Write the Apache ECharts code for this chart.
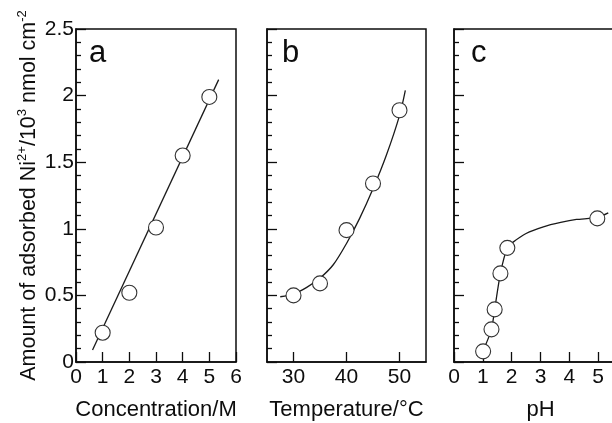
<!DOCTYPE html>
<html>
<head>
<meta charset="utf-8">
<script src="https://cdn.jsdelivr.net/npm/echarts@6/dist/echarts.min.js"></script>
<style>
  html, body { margin: 0; padding: 0; background: #fff; }
  #chart { width: 612px; height: 423px; }
</style>
</head>
<body>
<div id="chart"></div>
<script>
// panel a: concentration
const concX = [1, 2, 3, 4, 5];
const concY = [0.22, 0.52, 1.01, 1.55, 1.99];
const concFitX = [0.62, 5.35];
const concFitY = [0.09, 2.12];
// panel b: temperature
const tempX = [30, 35, 40, 45, 50];
const tempY = [0.50, 0.59, 0.99, 1.34, 1.89];
const tempFitX = [27.5, 30, 32.5, 35, 37.5, 40, 42.5, 45, 47.5, 50, 51.1];
const tempFitY = [0.49, 0.51, 0.56, 0.63, 0.73, 0.89, 1.08, 1.30, 1.55, 1.85, 2.04];
// panel c: pH
const phX = [1.01, 1.30, 1.41, 1.61, 1.85, 4.97];
const phY = [0.08, 0.245, 0.395, 0.665, 0.857, 1.078];
const phFitX = [0.78, 1.01, 1.30, 1.41, 1.61, 1.85, 2.05, 2.5, 3.1, 3.7, 4.25, 4.97, 5.35];
const phFitY = [0.05, 0.09, 0.245, 0.395, 0.665, 0.857, 0.90, 0.965, 1.015, 1.048, 1.07, 1.085, 1.12];

const yTicks = [0, 0.5, 1, 1.5, 2, 2.5];
const panelLetters = ['a', 'b', 'c'];
const xNames = ['Concentration/M', 'Temperature/°C', 'pH'];

const font = "'Liberation Sans', Arial, sans-serif";
const ink = '#0d0d0d';

function pairs(xs, ys) {
  return xs.map((x, i) => [x, ys[i]]);
}

let chart = echarts.init(document.getElementById('chart'));

const grids = [
  { left: 76, top: 29, width: 160, height: 333 },
  { left: 267, top: 29, width: 159, height: 333 },
  { left: 454, top: 29, width: 173, height: 333 },
].map((g) => ({
  ...g,
  show: true,
  borderColor: ink,
  borderWidth: 1.5,
  backgroundColor: 'transparent',
  containLabel: false,
  outerBoundsMode: 'none',
}));

const xBase = (idx) => ({
  type: 'value',
  gridIndex: idx,
  name: xNames[idx],
  nameLocation: 'middle',
  nameGap: 37,
  nameTextStyle: { fontFamily: font, fontSize: 22, color: ink },
  axisLine: { show: true, onZero: false, lineStyle: { color: ink, width: 1.5 } },
  axisTick: { show: true, inside: true, length: 10, lineStyle: { color: ink, width: 1.3 } },
  axisLabel: { show: true, fontFamily: font, fontSize: 21, color: ink, margin: 5 },
  splitLine: { show: false },
});

const xAxes = [
  { ...xBase(0), min: 0, max: 6, interval: 1 },
  {
    ...xBase(1), min: 25, max: 55,
    axisTick: { ...xBase(1).axisTick, customValues: [30, 40, 50] },
    axisLabel: { ...xBase(1).axisLabel, customValues: [30, 40, 50] },
  },
  { ...xBase(2), min: 0, max: 6, interval: 1 },
];

const yAxes = [0, 1, 2].map((idx) => ({
  type: 'value',
  gridIndex: idx,
  min: 0,
  max: 2.5,
  interval: 0.5,
  name: idx === 0
    ? '{m|Amount of adsorbed Ni}{s|2+}{m|/10}{s|3}{m| nmol cm}{s|-2}'
    : '',
  nameLocation: 'middle',
  nameRotate: 90,
  nameGap: 33,
  nameTextStyle: {
    rich: {
      m: { fontFamily: font, fontSize: 21.5, color: ink, lineHeight: 27 },
      s: { fontFamily: font, fontSize: 13, color: ink, lineHeight: 14, verticalAlign: 'top' },
    },
  },
  axisLine: { show: true, onZero: false, lineStyle: { color: ink, width: 1.5 } },
  axisTick: { show: true, inside: true, length: 10, lineStyle: { color: ink, width: 1.3 } },
  minorTick: { show: true, splitNumber: 5, length: 5, lineStyle: { color: ink, width: 1.3 } },
  axisLabel: {
    show: idx === 0,
    fontFamily: font,
    fontSize: 21,
    color: ink,
    margin: 2,
    formatter: (v) => (yTicks.includes(v) ? String(v) : ''),
  },
  splitLine: { show: false },
  minorSplitLine: { show: false },
}));

const fits = [pairs(concFitX, concFitY), pairs(tempFitX, tempFitY), pairs(phFitX, phFitY)];
const dots = [pairs(concX, concY), pairs(tempX, tempY), pairs(phX, phY)];
const smoothness = [false, 0.3, 0.2];

const series = [];
[0, 1, 2].forEach((idx) => {
  series.push({
    type: 'line',
    xAxisIndex: idx,
    yAxisIndex: idx,
    data: fits[idx],
    showSymbol: false,
    smooth: smoothness[idx],
    lineStyle: { color: '#1a1a1a', width: 1.3 },
    silent: true,
    z: 2,
  });
  series.push({
    type: 'scatter',
    xAxisIndex: idx,
    yAxisIndex: idx,
    data: dots[idx],
    symbol: 'circle',
    symbolSize: 15,
    itemStyle: { color: '#fff', borderColor: '#333', borderWidth: 1.1, opacity: 1 },
    silent: true,
    z: 3,
  });
});

const letterLeft = [89, 282, 471];
const titles = panelLetters.map((t, i) => ({
  text: t,
  left: letterLeft[i],
  top: 38,
  padding: 0,
  textStyle: { fontFamily: font, fontSize: 31, fontWeight: 'normal', color: ink },
}));

chart.setOption({
  animation: false,
  backgroundColor: '#fff',
  title: titles,
  grid: grids,
  xAxis: xAxes,
  yAxis: yAxes,
  series: series,
});
</script>
</body>
</html>
